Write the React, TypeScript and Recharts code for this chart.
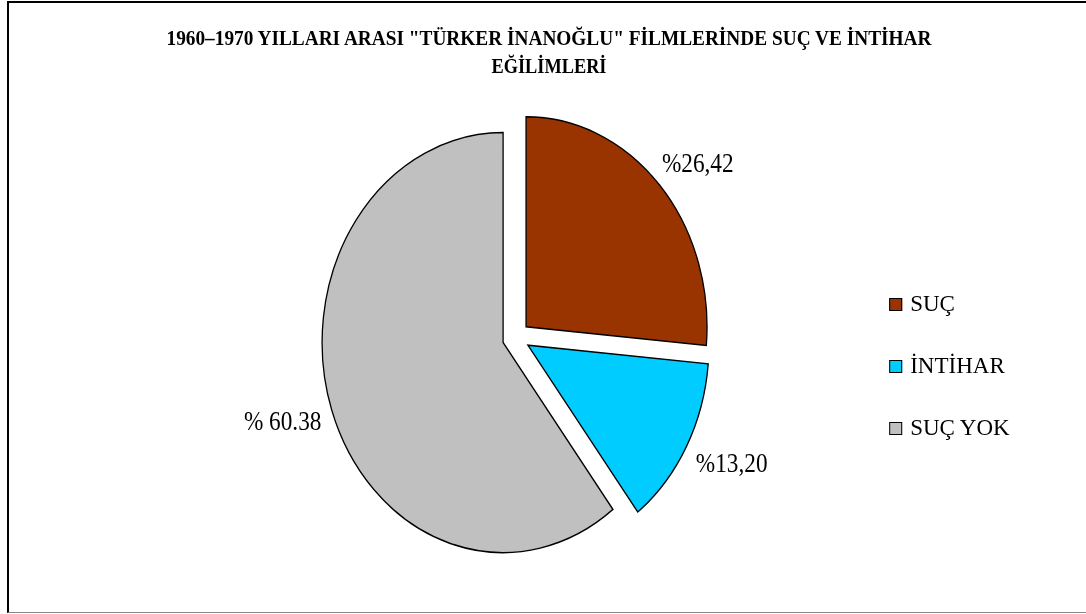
import React from 'react';
import { PieChart, Pie, Cell, Legend } from 'recharts';

const categories = ['SUÇ', 'İNTİHAR', 'SUÇ YOK'];
const values = [26.42, 13.2, 60.38];
const valueLabels = ['%26,42', '%13,20', '% 60.38'];
const colors = ['#993300', '#00CCFF', '#C0C0C0'];
const titleLines = [
  '1960–1970 YILLARI ARASI "TÜRKER İNANOĞLU" FİLMLERİNDE SUÇ VE İNTİHAR',
  'EĞİLİMLERİ',
];

const data = categories.map((name, i) => ({ name, value: values[i] }));

const SERIF = '"Liberation Serif", "Times New Roman", "DejaVu Serif", serif';
const SX = 181 / 210; // horizontal squash of the pie (elliptical pie)
const CX = 516;
const CY = 337.5;
const R = 210;
const EXPLODE = 15.8;
const LABEL_RX = 270;
const LABEL_RY = 243;
const RAD = Math.PI / 180;

const total = values.reduce((a, b) => a + b, 0);
const offsets = values.map((v, i) => {
  const before = values.slice(0, i).reduce((a, b) => a + b, 0);
  const theta = ((before + v / 2) / total) * 360 * RAD; // clockwise from 12 o'clock
  return { dx: EXPLODE * Math.sin(theta), dy: -EXPLODE * Math.cos(theta) };
});

const LEGEND_X = CX + (889 - CX) / SX;

const makeLabel = (target: number) => (props: any) => {
  const { cx, cy, midAngle, index } = props;
  if (index !== target) return null;
  const x = cx + LABEL_RX * Math.cos(-midAngle * RAD);
  const y = cy + LABEL_RY * Math.sin(-midAngle * RAD);
  return (
    <text
      x={x}
      y={y}
      textAnchor="middle"
      dominantBaseline="central"
      fontFamily={SERIF}
      fontSize={27}
      fill="#000"
    >
      {valueLabels[index]}
    </text>
  );
};

const renderLegend = () => (
  <div
    style={{
      transform: `scaleX(${1 / SX})`,
      transformOrigin: '0 0',
      fontFamily: SERIF,
      fontSize: 23,
      color: '#000',
      whiteSpace: 'nowrap',
    }}
  >
    {categories.map((c, i) => (
      <div key={c} style={{ height: 62, display: 'flex', alignItems: 'center' }}>
        <span
          style={{
            display: 'inline-block',
            width: 11,
            height: 11,
            border: '1px solid #000',
            background: colors[i],
            marginRight: 8,
          }}
        />
        <span>{c}</span>
      </div>
    ))}
  </div>
);

export default function App() {
  return (
    <div
      style={{
        position: 'fixed',
        left: 0,
        top: 0,
        width: 1086,
        height: 614,
        overflow: 'hidden',
        background: '#fff',
      }}
    >
      <div
        style={{
          position: 'absolute',
          left: 7,
          top: 1,
          width: 1100,
          height: 612,
          boxSizing: 'border-box',
          borderTop: '2px solid #000',
          borderLeft: '2px solid #000',
          borderBottom: '1px solid #888',
        }}
      />
      <div
        style={{
          position: 'absolute',
          left: 0,
          top: 0,
          width: 1086,
          height: 614,
          transform: `scaleX(${SX})`,
          transformOrigin: `${CX}px 0px`,
        }}
      >
        <PieChart width={1086} height={614} margin={{ top: 0, right: 0, bottom: 0, left: 0 }}>
          {categories.map((_, target) => (
            <Pie
              key={target}
              data={data}
              dataKey="value"
              nameKey="name"
              cx={CX + offsets[target].dx}
              cy={CY + offsets[target].dy}
              outerRadius={R}
              innerRadius={0}
              startAngle={90}
              endAngle={-270}
              isAnimationActive={false}
              label={makeLabel(target)}
              labelLine={false}
              legendType="none"
            >
              {data.map((d, i) => (
                <Cell
                  key={d.name}
                  fill={i === target ? colors[i] : 'none'}
                  stroke={i === target ? '#000' : 'none'}
                  strokeWidth={i === target ? 1.5 : 0}
                />
              ))}
            </Pie>
          ))}
          <Legend
            content={renderLegend}
            layout="vertical"
            wrapperStyle={{ position: 'absolute', left: LEGEND_X, top: 273, width: 220 }}
          />
        </PieChart>
      </div>
      <svg
        width={1086}
        height={100}
        style={{ position: 'absolute', left: 0, top: 0 }}
      >
        <text
          x={549}
          y={45}
          textAnchor="middle"
          fontFamily={SERIF}
          fontWeight="bold"
          fontSize={22}
          textLength={765}
          lengthAdjust="spacingAndGlyphs"
          fill="#000"
        >
          {titleLines[0]}
        </text>
        <text
          x={549}
          y={73}
          textAnchor="middle"
          fontFamily={SERIF}
          fontWeight="bold"
          fontSize={22}
          textLength={115}
          lengthAdjust="spacingAndGlyphs"
          fill="#000"
        >
          {titleLines[1]}
        </text>
      </svg>
    </div>
  );
}
